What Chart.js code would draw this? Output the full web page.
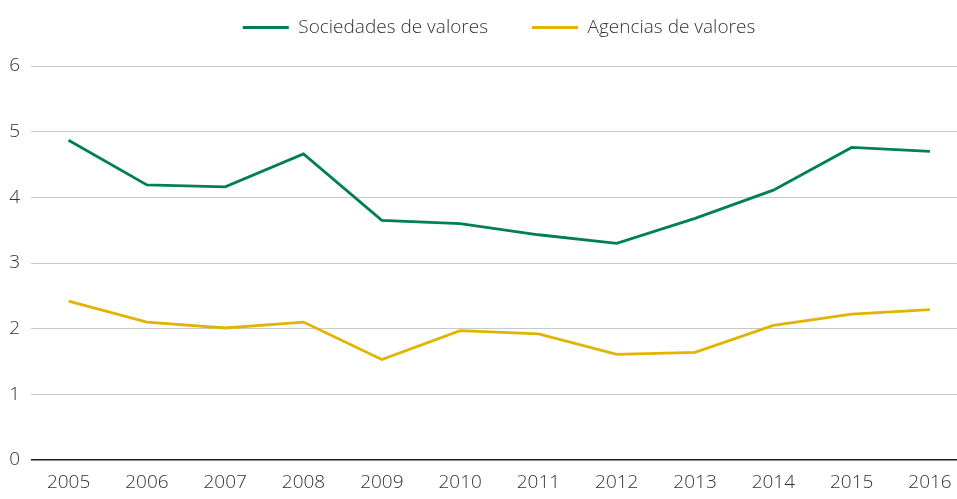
<!DOCTYPE html>
<html>
<head>
<meta charset="utf-8">
<script src="https://cdn.jsdelivr.net/npm/chart.js@4/dist/chart.umd.min.js"></script>
<style>
	html, body { margin: 0; padding: 0; background: #fff; }
	#wrap { width: 957px; height: 499px; }
</style>
</head>
<body>
<div id="wrap"><canvas id="chart"></canvas></div>
<script>
const years = [2005, 2006, 2007, 2008, 2009, 2010, 2011, 2012, 2013, 2014, 2015, 2016];
const sociedades = [4.87, 4.19, 4.16, 4.66, 3.65, 3.60, 3.43, 3.30, 3.68, 4.11, 4.76, 4.70];
const agencias = [2.42, 2.10, 2.01, 2.10, 1.53, 1.97, 1.92, 1.61, 1.64, 2.05, 2.22, 2.29];
const yTicks = [0, 1, 2, 3, 4, 5, 6];

const colors = {
	sociedades: "#007f55",
	agencias: "#e1b400",
	grid: "#c9c9c9",
	text: "#333333"
};

const font = { family: "'Open Sans', sans-serif", size: 19, weight: 300 };

function toPoints(values) {
	return years.map((year, i) => ({ x: year, y: values[i] }));
}

// push the plot area down below the legend, and nudge the legend a little right
const legendTweak = {
	id: "legendTweak",
	beforeInit(chart) {
		const legend = chart.legend;
		const fit = legend.fit;
		const draw = legend.draw;
		legend.fit = function () {
			fit.call(this);
			this.height += 19;
		};
		legend.draw = function () {
			const ctx = this.ctx;
			ctx.save();
			ctx.translate(5, 0);
			draw.apply(this, arguments);
			ctx.restore();
		};
	}
};

new Chart(document.getElementById("chart"), {
	type: "line",
	data: {
		datasets: [
			{
				label: "Sociedades de valores",
				data: toPoints(sociedades),
				borderColor: colors.sociedades,
				backgroundColor: colors.sociedades,
				borderWidth: 2.8,
				pointRadius: 0,
				tension: 0
			},
			{
				label: "Agencias de valores",
				data: toPoints(agencias),
				borderColor: colors.agencias,
				backgroundColor: colors.agencias,
				borderWidth: 2.8,
				pointRadius: 0,
				tension: 0
			}
		]
	},
	plugins: [legendTweak],
	options: {
		responsive: true,
		maintainAspectRatio: false,
		animation: false,
		layout: { padding: { top: -26, right: 0, bottom: 0, left: 0 } },
		plugins: {
			tooltip: { enabled: false },
			legend: {
				position: "top",
				fullSize: false,
				labels: {
					color: colors.text,
					font: font,
					boxWidth: 46,
					boxHeight: 3,
					padding: 44,
					generateLabels(chart) {
						return Chart.defaults.plugins.legend.labels.generateLabels(chart).map((item) => {
							item.lineWidth = 0;
							return item;
						});
					}
				}
			}
		},
		scales: {
			x: {
				type: "linear",
				min: 2004.52,
				max: 2016.345,
				afterBuildTicks(scale) {
					scale.ticks = years.map((v) => ({ value: v }));
				},
				afterFit(scale) {
					scale.height = 39;
				},
				grid: { display: false },
				border: { display: false },
				ticks: {
					color: colors.text,
					font: font,
					padding: 3,
					maxRotation: 0,
					autoSkip: false,
					callback: (v) => String(v)
				}
			},
			y: {
				min: 0,
				max: 6,
				afterBuildTicks(scale) {
					scale.ticks = yTicks.map((v) => ({ value: v }));
				},
				afterFit(scale) {
					scale.width = 31;
				},
				border: { display: false },
				grid: {
					drawTicks: false,
					color: (ctx) => (ctx.tick && ctx.tick.value === 0 ? "#1a1a1a" : colors.grid),
					lineWidth: (ctx) => (ctx.tick && ctx.tick.value === 0 ? 1.5 : 1)
				},
				ticks: {
					color: colors.text,
					font: font,
					padding: 11,
					align: "center"
				}
			}
		}
	}
});
</script>
</body>
</html>
